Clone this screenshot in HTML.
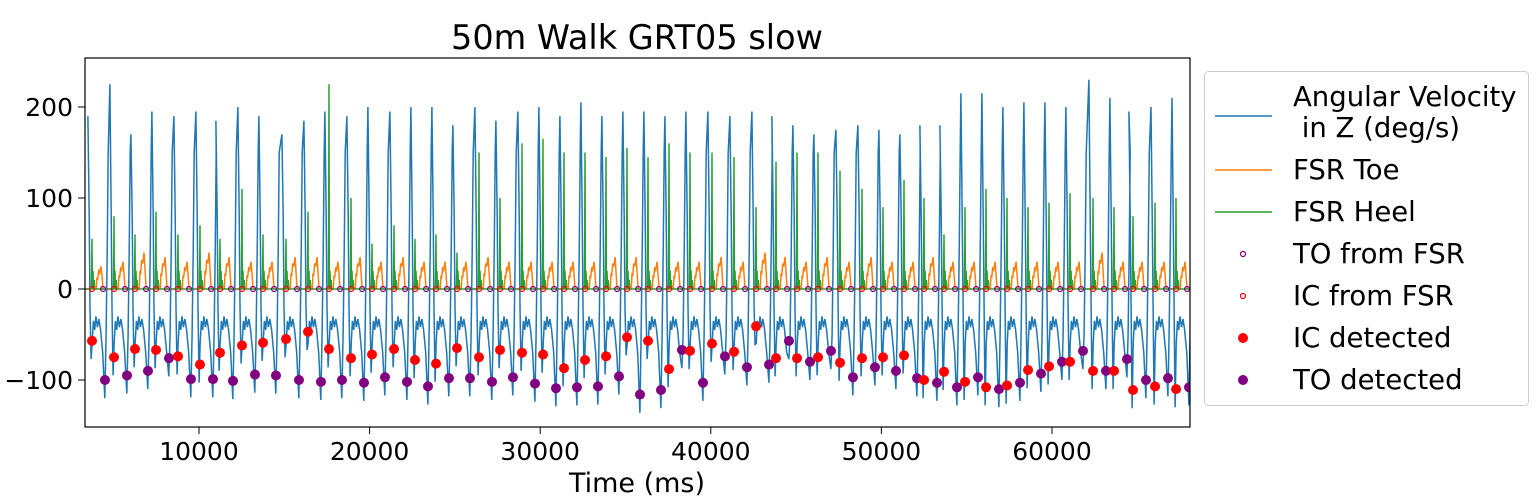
<!DOCTYPE html>
<html><head><meta charset="utf-8"><style>
body{margin:0;background:#fff;}
svg{display:block;font-family:"DejaVu Sans","Liberation Sans",sans-serif;}
</style></head><body>
<svg id="chart" width="1539" height="500">
<text x="637" y="49" font-size="33.5" text-anchor="middle">50m Walk GRT05 slow</text>
<defs><clipPath id="clip"><rect x="85" y="58" width="1105" height="369"/></clipPath></defs>
<g id="plot" clip-path="url(#clip)"></g>
<g id="axes"></g>
<rect x="85" y="58" width="1105" height="369" fill="none" stroke="#000" stroke-width="1.2"/>
<text x="637" y="492" font-size="27" text-anchor="middle">Time (ms)</text>
<g id="legend" font-size="27.5">
<rect x="1204.5" y="71.5" width="324" height="334" rx="4" fill="#fff" stroke="#ccc"/>
<line x1="1215" x2="1272" y1="116" y2="116" stroke="#1f77b4" stroke-width="1.5"/>
<text x="1293" y="106">Angular Velocity</text>
<text x="1293" y="137">&#160;in Z (deg/s)</text>
<line x1="1215" x2="1272" y1="170" y2="170" stroke="#ff7f0e" stroke-width="1.5"/>
<text x="1293" y="179">FSR Toe</text>
<line x1="1215" x2="1272" y1="212" y2="212" stroke="#2ca02c" stroke-width="1.5"/>
<text x="1293" y="221">FSR Heel</text>
<circle cx="1243" cy="254" r="2.5" fill="none" stroke="purple" stroke-width="1.2"/>
<text x="1293" y="263">TO from FSR</text>
<circle cx="1243" cy="296" r="2.5" fill="none" stroke="red" stroke-width="1.2"/>
<text x="1293" y="305">IC from FSR</text>
<circle cx="1243" cy="338" r="5" fill="red"/>
<text x="1293" y="347">IC detected</text>
<circle cx="1243" cy="380" r="5" fill="purple"/>
<text x="1293" y="389">TO detected</text>
</g>
</svg>
<script>
const xTicks=[10000,20000,30000,40000,50000,60000];
const yTicks=[200,100,0,-100];
const icTimes=[3728,5018,6249,7480,8770,10059,11232,12521,13752,15101,16390,17621,18911,20142,21432,22663,23893,25124,26414,27645,28935,30166,31397,32628,33859,35090,36321,37552,38783,40072,41362,42652,43824,45055,46286,47576,48865,50096,51327,52500,53672,54903,56134,57365,58596,59827,61058,62406,63637,64751,66041,67272];
const icValues=[-57,-75,-66,-67,-74,-83,-70,-62,-59,-55,-47,-66,-76,-72,-66,-78,-82,-65,-75,-67,-70,-72,-87,-78,-74,-53,-57,-88,-68,-60,-69,-41,-76,-76,-75,-81,-76,-75,-73,-100,-91,-102,-108,-106,-89,-85,-80,-90,-90,-111,-107,-110];
const toValues=[-100,-95,-90,-76,-99,-99,-101,-94,-95,-100,-102,-100,-103,-97,-102,-107,-98,-98,-102,-97,-104,-109,-108,-107,-96,-116,-111,-67,-103,-74,-86,-83,-57,-80,-68,-97,-86,-90,-98,-103,-108,-97,-110,-103,-93,-80,-68,-90,-77,-100,-98,-108];
const peakValues=[190,225,170,195,190,195,185,200,190,170,185,195,190,200,195,200,200,180,200,185,195,200,190,205,190,195,195,190,195,195,190,195,190,180,170,175,180,175,170,180,180,215,215,200,205,205,200,230,210,195,200,210];
const heelValues=[55,80,60,85,60,70,55,110,60,55,85,225,100,50,70,55,60,40,150,100,160,165,150,150,145,155,145,160,150,150,145,90,140,150,150,130,110,90,120,100,60,90,110,100,90,95,105,100,90,80,95,100];
const toeValues=[25,30,40,35,30,40,35,30,30,35,35,30,35,30,35,30,30,30,35,30,30,30,30,30,35,35,30,30,30,35,30,40,35,30,35,30,35,30,30,35,30,30,30,30,30,30,30,40,30,30,30,30];

const X0=3318,X1=68090,PX0=85,PX1=1190;
const sx=t=>PX0+(t-X0)/(X1-X0)*(PX1-PX0);
const sy=v=>289-v*0.91;
const NS='http://www.w3.org/2000/svg';
const plot=document.getElementById('plot'),axes=document.getElementById('axes');
function mk(tag,attrs,parent){const e=document.createElementNS(NS,tag);for(const k in attrs)e.setAttribute(k,attrs[k]);parent.appendChild(e);return e;}

xTicks.forEach(t=>{const x=sx(t);
 const tk=mk('line',{x1:x,x2:x,y1:427,y2:434,stroke:'#000'},axes);
 
 
 const lb=mk('text',{x:x,y:460,'font-size':25,'text-anchor':'middle'},axes);lb.textContent=t;
 
 });
yTicks.forEach(v=>{const y=sy(v);
 const tk=mk('line',{x1:78,x2:85,y1:y,y2:y,stroke:'#000'},axes);
 
 
 const lb=mk('text',{x:73,y:y+9,'font-size':25,'text-anchor':'end'},axes);lb.textContent=v<0?'\u2212'+(-v):v;
 
 });

const n=icTimes.length;
const T=1240;
let gy=[],toe=[],heel=[];
const tpl=[[0,1],[0.06,80],[0.1,-20],[0.15,-90],[0.2,-60],[0.26,-35],[0.32,-45],[0.38,-30],[0.45,-42],[0.52,-33],[0.6,-45],[0.7,-70],[0.8,-120],[0.86,-50],[0.91,40],[0.96,150]];
for(let i=0;i<n;i++){
 const tp=icTimes[i]-240;
 tpl.forEach(([f,v],k)=>{let val=k===0?peakValues[i]:v;
  if(k===3)val=icValues[i]-20;
  if(k===12)val=toValues[i]-20;
  gy.push([tp+f*T,val]);});
 const ic=icTimes[i];
 heel.push([ic-30,0],[ic,heelValues[i]],[ic+20,0],[ic+60,20],[ic+90,0],[ic+130,10],[ic+160,0],[ic+760,0]);
 const a=ic+250,b=ic+650,tv=toeValues[i];
 toe.push([a,0],[a+40,tv*0.5],[a+80,tv*0.4],[a+140,tv*0.8],[a+200,tv*0.7],[a+280,tv],[a+330,tv*0.6],[b,0],[ic+1200,0]);
}
function pathFrom(pts){return pts.map((p,i)=>(i?'L':'M')+sx(p[0]).toFixed(1)+','+sy(p[1]).toFixed(1)).join('');}
const pToe=mk('path',{d:'M85,289'+pathFrom(toe).replace('M','L'),fill:'none',stroke:'#ff7f0e','stroke-width':1.5},plot);


const pHeel=mk('path',{d:'M85,289'+pathFrom(heel).replace('M','L')+'L1190,289',fill:'none',stroke:'#2ca02c','stroke-width':1.5},plot);


const pG=mk('path',{d:pathFrom(gy),fill:'none',stroke:'#1f77b4','stroke-width':1.5},plot);


for(let i=0;i<n;i++){
 const c1=mk('circle',{cx:sx(icTimes[i]),cy:sy(0),r:2.5,fill:'none',stroke:'red','stroke-width':1.2},plot);
 
 
 const c2=mk('circle',{cx:sx(icTimes[i]+650),cy:sy(0),r:2.5,fill:'none',stroke:'purple','stroke-width':1.2},plot);
 
 
}
for(let i=0;i<n;i++){
 const c=mk('circle',{cx:sx(icTimes[i]),cy:sy(icValues[i]),r:5,fill:'red'},plot);
 
 
 const d=mk('circle',{cx:sx(icTimes[i]+760),cy:sy(toValues[i]),r:5,fill:'purple'},plot);
 
 
}
</script>
</body></html>
